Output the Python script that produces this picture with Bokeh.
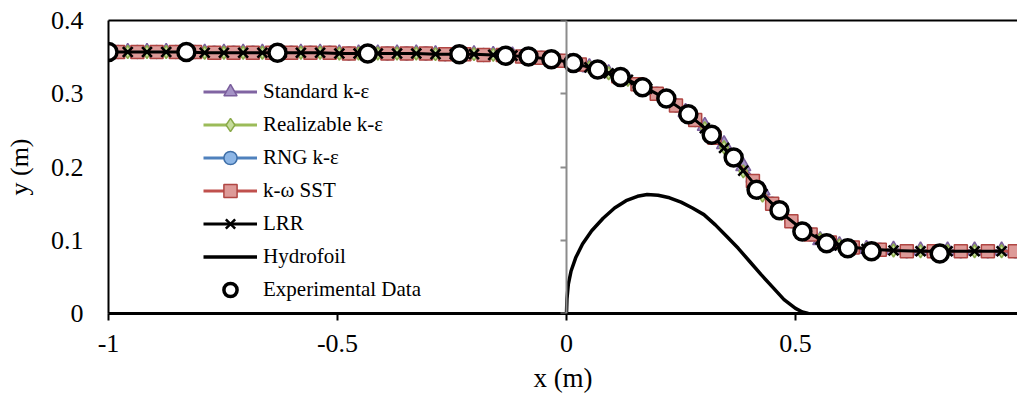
from bokeh.plotting import figure
from bokeh.models import (Range1d, FixedTicker, NumeralTickFormatter, LinearAxis,
                          Legend, LegendItem, CustomJSTickFormatter)
from bokeh.embed import file_html
from bokeh.resources import INLINE

FONT = "Liberation Serif"

# ---- axis ticks -------------------------------------------------------------
x_ticks = [-1.0, -0.5, 0.0, 0.5]
y_ticks = [0.0, 0.1, 0.2, 0.3, 0.4]

# ---- CFD free-surface profiles ---------------------------------------------
# sampling stations (m)
x_grid_a = [-1.000, -0.958, -0.916, -0.874, -0.832, -0.790, -0.748, -0.706,
            -0.664, -0.622, -0.580, -0.538, -0.496, -0.454, -0.412, -0.370,
            -0.328, -0.286, -0.244, -0.202, -0.160, -0.118, -0.076, -0.034,
            0.008, 0.050, 0.092, 0.134, 0.176, 0.218, 0.260, 0.302, 0.344,
            0.386, 0.428, 0.470, 0.512, 0.554, 0.596, 0.655, 0.714, 0.773,
            0.832, 0.891, 0.950]
x_grid_b = [-0.979, -0.937, -0.895, -0.853, -0.811, -0.769, -0.727, -0.685,
            -0.643, -0.601, -0.559, -0.517, -0.475, -0.433, -0.391, -0.349,
            -0.307, -0.265, -0.223, -0.181, -0.139, -0.097, -0.055, -0.013,
            0.029, 0.071, 0.113, 0.155, 0.197, 0.239, 0.281, 0.323, 0.365,
            0.407, 0.449, 0.491, 0.533, 0.575, 0.625, 0.684, 0.743, 0.802,
            0.861, 0.920, 0.979]

y_standard = [0.357, 0.357, 0.357, 0.357, 0.357, 0.356, 0.356, 0.356,
              0.356, 0.356, 0.356, 0.356, 0.355, 0.355, 0.355, 0.355,
              0.355, 0.354, 0.354, 0.354, 0.353, 0.352, 0.350, 0.347,
              0.343, 0.336, 0.328, 0.319, 0.307, 0.293, 0.275, 0.256, 0.231,
              0.201, 0.168, 0.136, 0.113, 0.100, 0.093, 0.088, 0.087, 0.086,
              0.086, 0.086, 0.086]
y_realizable = [0.357, 0.357, 0.357, 0.357, 0.357, 0.356, 0.356, 0.356,
                0.356, 0.356, 0.356, 0.356, 0.355, 0.355, 0.355, 0.355,
                0.355, 0.354, 0.354, 0.354, 0.353, 0.352, 0.350, 0.347,
                0.343, 0.336, 0.328, 0.319, 0.307, 0.293, 0.275, 0.253, 0.227,
                0.194, 0.161, 0.136, 0.116, 0.101, 0.093, 0.088, 0.086, 0.085,
                0.085, 0.085, 0.085]
y_rng = [0.357, 0.357, 0.357, 0.357, 0.357, 0.356, 0.356, 0.356,
         0.356, 0.356, 0.356, 0.356, 0.355, 0.355, 0.355, 0.355,
         0.355, 0.354, 0.354, 0.353, 0.353, 0.351, 0.349, 0.345,
         0.340, 0.332, 0.324, 0.313, 0.300, 0.284, 0.264, 0.240, 0.211,
         0.180, 0.150, 0.126, 0.108, 0.097, 0.090, 0.087, 0.085, 0.085,
         0.085, 0.085, 0.085]
y_sst = [0.357, 0.357, 0.357, 0.357, 0.357, 0.356, 0.356, 0.356,
         0.356, 0.356, 0.356, 0.356, 0.355, 0.355, 0.355, 0.355,
         0.355, 0.354, 0.354, 0.353, 0.353, 0.351, 0.349, 0.345,
         0.340, 0.332, 0.324, 0.313, 0.300, 0.284, 0.264, 0.240, 0.212,
         0.181, 0.150, 0.126, 0.108, 0.097, 0.090, 0.087, 0.085, 0.085,
         0.085, 0.085, 0.085]
y_lrr = [0.357, 0.357, 0.357, 0.357, 0.357, 0.356, 0.356, 0.356,
         0.356, 0.356, 0.356, 0.356, 0.355, 0.355, 0.355, 0.355,
         0.355, 0.354, 0.354, 0.354, 0.353, 0.352, 0.350, 0.347,
         0.343, 0.336, 0.328, 0.319, 0.307, 0.293, 0.275, 0.253, 0.226,
         0.195, 0.163, 0.137, 0.116, 0.101, 0.093, 0.088, 0.086, 0.085,
         0.085, 0.085, 0.085]

# ---- hydrofoil contour -----------------------------------------------------
x_foil = [0.000, 0.001, 0.004, 0.010, 0.020, 0.035, 0.055, 0.080, 0.105,
          0.130, 0.155, 0.176, 0.200, 0.225, 0.250, 0.275, 0.300, 0.325,
          0.350, 0.375, 0.400, 0.425, 0.450, 0.475, 0.500, 0.515, 0.528]
y_foil = [0.000, 0.020, 0.040, 0.058, 0.076, 0.095, 0.113, 0.130, 0.144,
          0.154, 0.160, 0.1625, 0.1615, 0.158, 0.152, 0.144, 0.135, 0.121,
          0.105, 0.089, 0.071, 0.053, 0.036, 0.019, 0.007, 0.002, 0.000]

# ---- measurements ----------------------------------------------------------
x_exp = [-1.000, -0.830, -0.631, -0.434, -0.234, -0.133, -0.083, -0.033,
         0.015, 0.068, 0.118, 0.166, 0.218, 0.266, 0.317, 0.365, 0.415,
         0.465, 0.515, 0.568, 0.614, 0.666, 0.815]
y_exp = [0.357, 0.357, 0.356, 0.355, 0.354, 0.352, 0.351, 0.347,
         0.342, 0.333, 0.323, 0.309, 0.2935, 0.272, 0.244, 0.213, 0.169,
         0.141, 0.112, 0.096, 0.089, 0.085, 0.082]

p = figure(width=1017, height=397,
           x_range=Range1d(-1.0, 0.9847), y_range=Range1d(0.0, 0.4),
           output_backend="svg", toolbar_location=None,
           min_border_left=108, min_border_right=0,
           min_border_top=20, min_border_bottom=84,
           background_fill_color="white", border_fill_color="white")
p.outline_line_color = None
p.grid.visible = False

# bottom axis
xa = p.xaxis[0]
xa.ticker = FixedTicker(ticks=x_ticks)
xa.formatter = NumeralTickFormatter(format="0.[0]")
xa.axis_line_color = "black"
xa.axis_line_width = 3
xa.major_tick_line_color = "black"
xa.major_tick_line_width = 2
xa.major_tick_in = 0
xa.major_tick_out = 7
xa.minor_tick_line_color = None
xa.major_label_standoff = 14
xa.major_label_text_font = FONT
xa.major_label_text_font_size = "26px"
xa.major_label_text_color = "black"
xa.axis_label = "x (m)"
xa.axis_label_text_font = FONT
xa.axis_label_text_font_size = "27px"
xa.axis_label_text_font_style = "normal"
xa.axis_label_text_color = "black"
xa.axis_label_standoff = 8

# left axis: labels plus the plot-area border
ya = p.yaxis[0]
ya.ticker = FixedTicker(ticks=y_ticks)
ya.formatter = NumeralTickFormatter(format="0.[0]")
ya.axis_line_color = "black"
ya.axis_line_width = 2
ya.major_tick_line_color = None
ya.minor_tick_line_color = None
ya.major_label_standoff = 19
ya.major_label_text_font = FONT
ya.major_label_text_font_size = "26px"
ya.major_label_text_color = "black"
ya.axis_label = "y (m)"
ya.axis_label_text_font = FONT
ya.axis_label_text_font_size = "26px"
ya.axis_label_text_font_style = "normal"
ya.axis_label_text_color = "black"
ya.axis_label_standoff = 14

# value axis crossing at x = 0 (ticks only, no labels)
y0 = LinearAxis(fixed_location=0.0, ticker=FixedTicker(ticks=y_ticks),
                formatter=CustomJSTickFormatter(code="return ''"),
                axis_line_color="#8c8c8c", axis_line_width=2,
                major_tick_line_color="#8c8c8c", major_tick_line_width=2,
                major_tick_in=0, major_tick_out=6,
                minor_tick_line_color=None,
                major_label_text_font=FONT, major_label_text_font_size="10px",
                major_label_standoff=0)
p.add_layout(y0, "left")

# top border (plain line)
top = LinearAxis(ticker=FixedTicker(ticks=[]),
                 axis_line_color="black", axis_line_width=2,
                 major_tick_line_color=None, minor_tick_line_color=None,
                 major_label_standoff=0)
p.add_layout(top, "above")

# CFD series
l_std = p.line(x_grid_a, y_standard, line_color="#8064A2", line_width=3)
m_std = p.scatter(x_grid_a, y_standard, marker="triangle", size=15,
                  fill_color="#A593C6", line_color="#7A5E9C", line_width=1.5)
l_rlz = p.line(x_grid_a, y_realizable, line_color="#9BBB59", line_width=3)
m_rlz = p.scatter(x_grid_a, y_realizable, marker="diamond", size=13,
                  fill_color="#C6DC9C", line_color="#8AAA4A", line_width=1.5)
l_rng = p.line(x_grid_b, y_rng, line_color="#4F81BD", line_width=3)
m_rng = p.scatter(x_grid_b, y_rng, marker="circle", size=13,
                  fill_color="#8DB6E6", line_color="#3F6FA8", line_width=1.5)
l_sst = p.line(x_grid_b, y_sst, line_color="#C0504D", line_width=3)
m_sst = p.scatter(x_grid_b, y_sst, marker="square", size=13,
                  fill_color="#DD9A98", line_color="#B04643", line_width=1.5)
l_lrr = p.line(x_grid_a, y_lrr, line_color="black", line_width=3)
m_lrr = p.scatter(x_grid_a, y_lrr, marker="x", size=14,
                  line_color="black", line_width=2.5)

l_foil = p.line(x_foil, y_foil, line_color="black", line_width=3.5)

m_exp = p.scatter(x_exp, y_exp, marker="circle", size=17,
                  fill_color="white", line_color="black", line_width=3.5)

legend = Legend(items=[
    LegendItem(label="Standard k-\u03b5", renderers=[l_std, m_std]),
    LegendItem(label="Realizable k-\u03b5", renderers=[l_rlz, m_rlz]),
    LegendItem(label="RNG k-\u03b5", renderers=[l_rng, m_rng]),
    LegendItem(label="k-\u03c9 SST", renderers=[l_sst, m_sst]),
    LegendItem(label="LRR", renderers=[l_lrr, m_lrr]),
    LegendItem(label="Hydrofoil", renderers=[l_foil]),
    LegendItem(label="Experimental Data", renderers=[m_exp]),
], location=(95, 7), padding=0, margin=0, spacing=0,
    glyph_height=33, glyph_width=54, label_height=33, label_standoff=6,
    label_text_font=FONT, label_text_font_size="21px",
    label_text_color="black",
    border_line_color=None, background_fill_alpha=0)
p.add_layout(legend, "center")

open("out.html", "w").write(file_html(p, INLINE))
